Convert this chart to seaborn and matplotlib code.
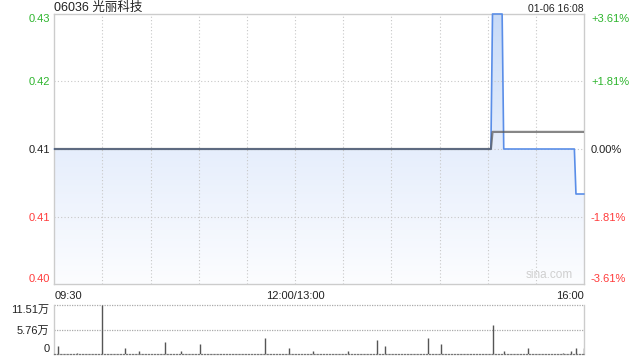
import numpy as np
import pandas as pd
import matplotlib
matplotlib.use("Agg")
import matplotlib.pyplot as plt
import seaborn as sns
from matplotlib.colors import LinearSegmentedColormap

# ---------------- data ----------------
title = "06036 光丽科技"
stamp = "01-06 16:08"
prev_close = 0.415
price_minutes = [0, 272, 273, 279, 280, 324, 325, 330]
price_values = [0.415, 0.415, 0.43, 0.43, 0.415, 0.415, 0.41, 0.41]
avg_minutes = [0, 272, 273, 330]
avg_values = [0.415, 0.415, 0.4169, 0.4169]
price_ticks = [0.43, 0.42251, 0.415, 0.40749, 0.40]
price_labels = ["0.43", "0.42", "0.41", "0.41", "0.40"]
pct_labels = ["+3.61%", "+1.81%", "0.00%", "-1.81%", "-3.61%"]
time_ticks = [0, 150, 330]
time_labels = ["09:30", "12:00/13:00", "16:00"]
vol_minutes = [2, 14, 30, 44, 53, 69, 79, 91, 131, 146, 161, 183, 201, 206,
               233, 241, 273, 280, 295, 317, 322, 325, 330]
vol_values = [1.9, 0.3, 11.51, 1.4, 0.8, 2.9, 0.8, 2.4, 3.8, 1.5, 0.8, 0.8,
              3.3, 1.9, 3.8, 2.4, 6.8, 0.8, 1.5, 0.4, 0.8, 1.5, 1.5]
vol_ticks = [0, 5.755, 11.51]
vol_labels = ["0", "5.76万", "11.51万"]

# ---------------- style ----------------
sns.set_style("white")
plt.rcParams['font.family'] = ['Liberation Sans', 'Noto Sans CJK SC', 'DejaVu Sans']
plt.rcParams['font.size'] = 8

GREEN = "#2db52d"
RED = "#ff3b3b"
DARK = "#222222"
FRAME = "#cccccc"
LINE = "#5a8ee8"

fig = plt.figure(figsize=(6.4, 3.6), dpi=100)
W, H = 640, 360
def rect(l, t, r, b):
    return [l / W, (H - b) / H, (r - l) / W, (b - t) / H]

ax = fig.add_axes(rect(54.3, 14, 584, 284))
axv = fig.add_axes(rect(54.3, 305, 584, 354.3))

# ---------------- price panel ----------------
pdf = pd.DataFrame({"t": price_minutes, "p": price_values})
adf = pd.DataFrame({"t": avg_minutes, "p": avg_values})
ymin, ymax = price_ticks[-1], price_ticks[0]
ax.set_xlim(0, 330)
ax.set_ylim(ymin, ymax)

# gradient fill under price line
poly = ax.fill_between(pdf["t"], pdf["p"], ymin, color="none", lw=0)
cmap = LinearSegmentedColormap.from_list("g", ["#fcfdff", "#e6eefc", "#c8dbf8"])
grad = np.linspace(0, 1, 256).reshape(-1, 1)
im = ax.imshow(grad, extent=[0, 330, ymin, ymax], origin="lower", cmap=cmap,
               aspect="auto", zorder=1)
im.set_clip_path(poly.get_paths()[0], transform=ax.transData)

sns.lineplot(data=pdf, x="t", y="p", ax=ax, color=LINE, lw=1.2, zorder=4, clip_on=False)
sns.lineplot(data=adf, x="t", y="p", ax=ax, color="#555555", alpha=0.7, lw=1.6, zorder=5)

# grid
for t in range(30, 330, 30):
    ax.axvline(t, color="#c8c8c8", lw=0.8, ls=(0, (1, 2)), zorder=2)
for y in price_ticks[1:-1]:
    ax.axhline(y, color="#c8c8c8", lw=0.8, ls=(0, (1, 2)), zorder=2)

for s in ax.spines.values():
    s.set_color(FRAME)
    s.set_linewidth(1)

ax.set_xlabel("")
ax.set_ylabel("")
ax.set_yticks(price_ticks)
ax.set_yticklabels(price_labels)
ax.tick_params(axis="y", length=0, pad=3, labelsize=8)
cols = [GREEN, GREEN, DARK, RED, RED]
for lab, c in zip(ax.get_yticklabels(), cols):
    lab.set_color(c)
ylabs = ax.get_yticklabels()
ylabs[0].set_va("top")
ylabs[-1].set_va("bottom")

ax.set_xticks(time_ticks)
ax.set_xticklabels(time_labels)
ax.tick_params(axis="x", length=0, pad=5, labelsize=8, labelcolor=DARK)
xl = ax.get_xticklabels()
xl[0].set_ha("left")
xl[-1].set_ha("right")

ax2 = ax.twinx()
ax2.set_ylim(ymin, ymax)
ax2.set_yticks(price_ticks)
ax2.set_yticklabels(pct_labels)
ax2.tick_params(axis="y", length=0, pad=5, labelsize=8)
for s in ax2.spines.values():
    s.set_visible(False)
rl = ax2.get_yticklabels()
for lab, c in zip(rl, cols):
    lab.set_color(c)
rl[0].set_va("top")
rl[-1].set_va("bottom")

ax.text(0.979, 0.012, "sina.com", transform=ax.transAxes, ha="right", va="bottom",
        color="#cfcfcf", fontsize=8.5, zorder=5)

fig.text(54.3 / W, (H - 8) / H, title, ha="left", va="center", fontsize=9, color=DARK)
fig.text(584 / W, (H - 8.5) / H, stamp, ha="right", va="center", fontsize=7.5, color=DARK)

# ---------------- volume panel ----------------
axv.set_xlim(0, 330)
axv.set_ylim(0, vol_ticks[-1])
axv.vlines(vol_minutes, 0, vol_values, color="#555555", lw=1.0, zorder=3)
axv.axhline(vol_ticks[1], color="#aaaaaa", lw=0.9, ls=(0, (1, 1)), zorder=2)
axv.axhline(vol_ticks[2], color="#aaaaaa", lw=0.9, ls=(0, (1, 1)), zorder=2, clip_on=False)
axv.spines["top"].set_visible(False)
axv.spines["bottom"].set_color("#777777")
axv.spines["bottom"].set_linestyle((0, (1, 1.5)))
axv.spines["bottom"].set_linewidth(0.9)
for k in ["left", "right"]:
    axv.spines[k].set_color(FRAME)
    axv.spines[k].set_linewidth(1)
axv.set_xticks([])
axv.set_yticks(vol_ticks)
axv.set_yticklabels(vol_labels)
axv.tick_params(axis="y", length=0, pad=3.5, labelsize=8, labelcolor=DARK)
vl = axv.get_yticklabels()
vl[0].set_va("bottom")
vl[-1].set_va("top")

fig.savefig("out.png", dpi=100)
